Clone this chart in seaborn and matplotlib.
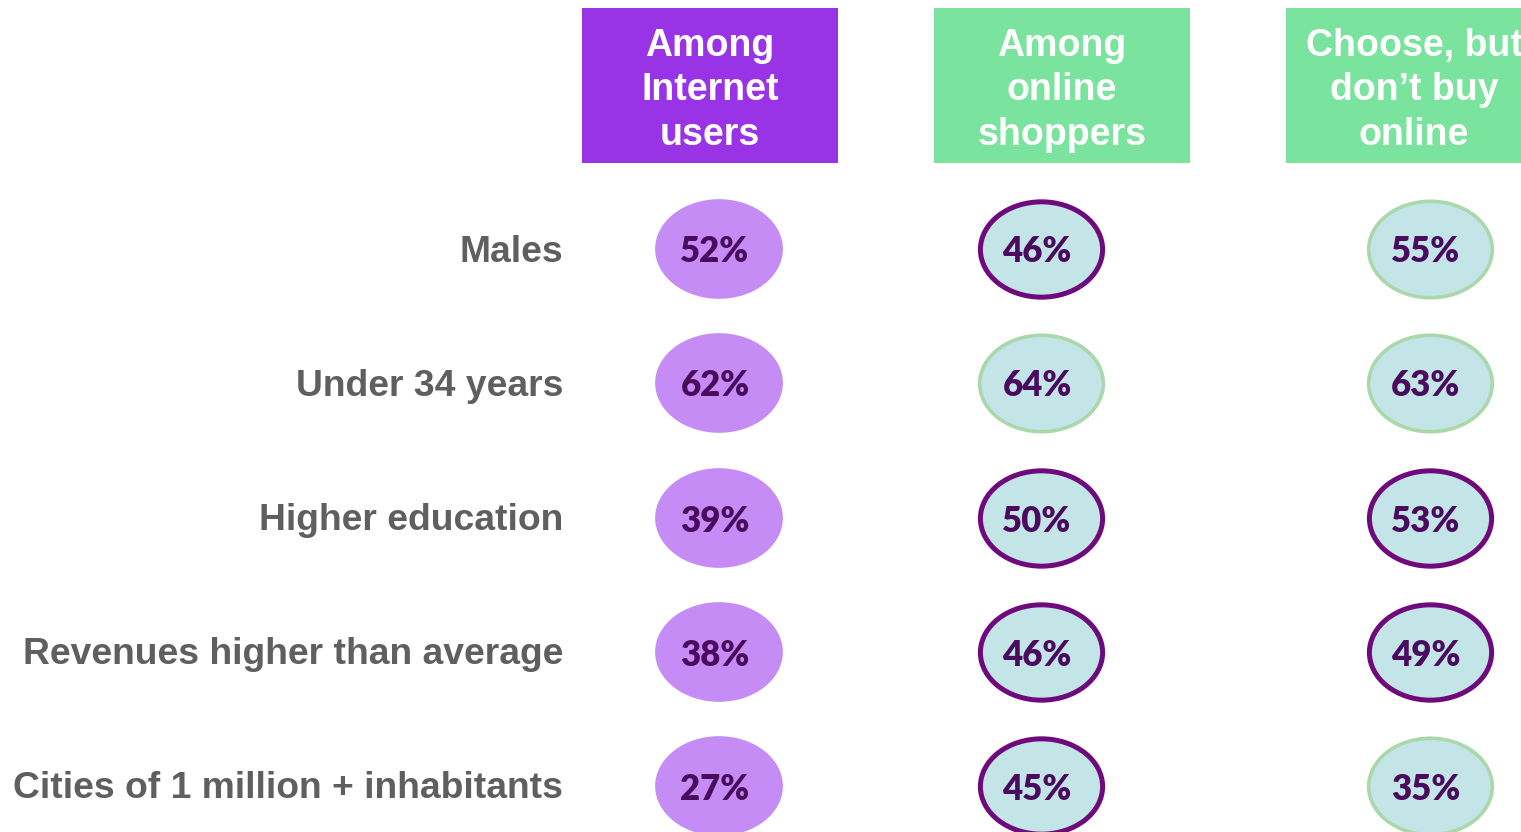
import matplotlib.pyplot as plt
import pandas as pd
import seaborn as sns
from matplotlib.patches import Rectangle
from matplotlib.path import Path
from matplotlib.transforms import Affine2D


CATEGORIES = [
    "Males",
    "Under 34 years",
    "Higher education",
    "Revenues higher than average",
    "Cities of 1 million + inhabitants",
]
SEGMENTS = ["Among\nInternet\nusers", "Among\nonline\nshoppers", "Choose, but\ndon\u2019t buy\nonline"]

INTERNET_USERS = [52, 62, 39, 38, 27]
ONLINE_SHOPPERS = [46, 64, 50, 46, 45]
NOT_BUY_ONLINE = [55, 63, 53, 49, 35]

# rings with the dark outline (stand out vs. internet users)
SHOPPERS_HIGHLIGHT = [True, False, True, True, True]
NOT_BUY_HIGHLIGHT = [False, False, True, True, False]

# layout, in pixels of the 1521x832 canvas
COL_X = [719, 1041, 1430]
ROW_Y = [249, 383, 518, 652, 786]
HEADER_X = [582, 934, 1286]
HEADER_W = 256
HEADER_TOP, HEADER_BOTTOM = 8, 163

PURPLE_HEAD = "#9933E6"
GREEN_HEAD = "#7AE39E"
BUBBLE_PURPLE = "#C68CF6"
BUBBLE_BLUE = "#C3E5E8"
RING_DARK = "#6E0A7C"
RING_LIGHT = "#AAD8AA"
VALUE_COLOR = "#4A0B5E"
LABEL_COLOR = "#5F5F5F"

ELLIPSE = Path.unit_circle().transformed(Affine2D().scale(1, 0.78))


def build_frame() -> pd.DataFrame:
    rows = []
    series = [
        (INTERNET_USERS, [None] * len(CATEGORIES)),
        (ONLINE_SHOPPERS, SHOPPERS_HIGHLIGHT),
        (NOT_BUY_ONLINE, NOT_BUY_HIGHLIGHT),
    ]
    for col, (values, flags) in enumerate(series):
        for row, (value, flag) in enumerate(zip(values, flags)):
            if flag is None:
                kind = "base"
            else:
                kind = "dark" if flag else "light"
            rows.append(
                {"x": COL_X[col], "y": ROW_Y[row], "value": value, "kind": kind}
            )
    return pd.DataFrame(rows)


def main() -> None:
    data = build_frame()

    fig = plt.figure(figsize=(15.21, 8.32), dpi=100)
    ax = fig.add_axes([0, 0, 1, 1])
    ax.set_xlim(0, 1521)
    ax.set_ylim(832, 0)
    ax.axis("off")

    styles = {
        "base": dict(color=BUBBLE_PURPLE, edgecolor="none", linewidth=0, s=92**2),
        "dark": dict(color=BUBBLE_BLUE, edgecolor=RING_DARK, linewidth=3.6, s=88**2),
        "light": dict(color=BUBBLE_BLUE, edgecolor=RING_LIGHT, linewidth=2.6, s=89**2),
    }
    for kind, style in styles.items():
        subset = data[data["kind"] == kind]
        sns.scatterplot(
            data=subset, x="x", y="y", marker=ELLIPSE, ax=ax, legend=False, **style
        )

    for _, r in data.iterrows():
        ax.text(
            r["x"] - 4, r["y"] + 3, f"{r['value']}%",
            ha="center", va="center", fontsize=25, fontweight="heavy",
            family="Lato", color=VALUE_COLOR,
        )

    for y, label in zip(ROW_Y, CATEGORIES):
        ax.text(
            563, y + 3, label, ha="right", va="center", fontsize=26.8,
            fontweight="bold", family="Liberation Sans", color=LABEL_COLOR,
        )

    head_colors = [PURPLE_HEAD, GREEN_HEAD, GREEN_HEAD]
    for x0, color, title in zip(HEADER_X, head_colors, SEGMENTS):
        ax.add_patch(
            Rectangle((x0, HEADER_TOP), HEADER_W, HEADER_BOTTOM - HEADER_TOP,
                      facecolor=color, edgecolor="none")
        )
        ax.text(
            x0 + HEADER_W / 2, (HEADER_TOP + HEADER_BOTTOM) / 2 + 5, title,
            ha="center", va="center", fontsize=27, fontweight="bold",
            family="Liberation Sans", color="white", linespacing=1.3,
        )

    fig.savefig("out.png", dpi=100)
    plt.close(fig)


if __name__ == "__main__":
    main()
